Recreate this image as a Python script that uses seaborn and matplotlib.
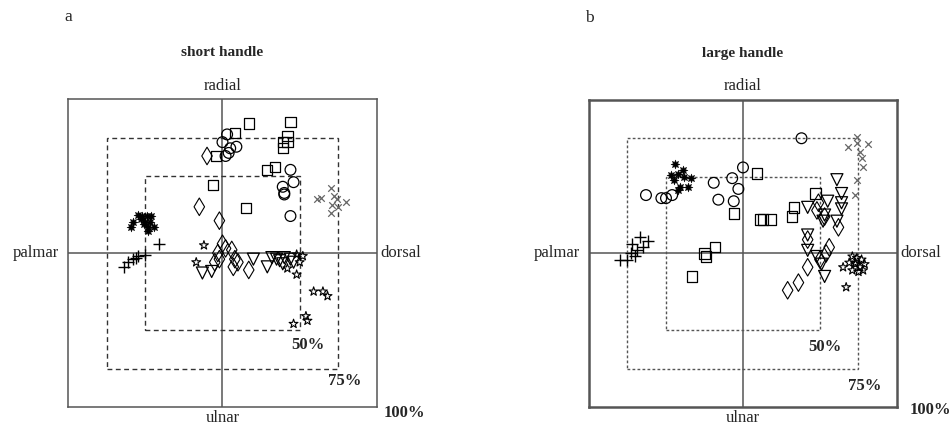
import matplotlib
matplotlib.use("Agg")
import matplotlib.pyplot as plt
from matplotlib.patches import Rectangle
import seaborn as sns
import pandas as pd

sns.set_theme(style="white")
plt.rcParams["font.family"] = ["Liberation Serif", "DejaVu Serif"]

# ---- short handle: wrist positions (fraction of range of motion) ----
a_square_x = [0.17, 0.08, -0.04, 0.44, 0.42, 0.39, 0.42, 0.39, 0.34, 0.29, -0.06, 0.15]
a_square_y = [0.84, 0.78, 0.63, 0.85, 0.76, 0.72, 0.72, 0.68, 0.56, 0.54, 0.44, 0.29]
a_circle_x = [0.03, 0.00, 0.09, 0.05, 0.04, 0.02, 0.44, 0.46, 0.39, 0.40, 0.40, 0.44]
a_circle_y = [0.77, 0.72, 0.69, 0.68, 0.65, 0.63, 0.54, 0.46, 0.43, 0.39, 0.38, 0.24]
a_diamond_x = [-0.10, -0.15, -0.02, 0.00, 0.06, -0.03, -0.02, 0.08, 0.10, 0.07, 0.17, -0.05, 0.02]
a_diamond_y = [0.63, 0.30, 0.21, 0.06, 0.02, 0.00, -0.04, -0.04, -0.06, -0.09, -0.11, -0.06, 0.03]
a_tri_x = [-0.13, -0.07, 0.20, 0.29, 0.32, 0.35, 0.39, 0.44, 0.46, 0.40, 0.37]
a_tri_y = [-0.13, -0.12, -0.04, -0.09, -0.03, -0.04, -0.07, -0.04, -0.06, -0.03, -0.05]
a_star_x = [-0.12, -0.17, 0.48, 0.52, 0.42, 0.48, 0.59, 0.65, 0.68, 0.54, 0.55, 0.46, 0.50]
a_star_y = [0.05, -0.06, -0.01, -0.02, -0.10, -0.14, -0.25, -0.25, -0.28, -0.41, -0.44, -0.46, -0.06]
a_cross_x = [0.70, 0.61, 0.64, 0.72, 0.74, 0.80, 0.75, 0.71, 0.70]
a_cross_y = [0.42, 0.35, 0.36, 0.37, 0.35, 0.33, 0.30, 0.31, 0.26]
a_plus_x = [-0.41, -0.50, -0.56, -0.58, -0.61, -0.64, -0.55]
a_plus_y = [0.06, -0.01, -0.03, -0.04, -0.06, -0.09, -0.02]
a_ast_x = [-0.55, -0.52, -0.49, -0.46, -0.58, -0.53, -0.50, -0.47, -0.59, -0.51, -0.48, -0.44, -0.48]
a_ast_y = [0.25, 0.24, 0.24, 0.24, 0.20, 0.22, 0.20, 0.20, 0.17, 0.19, 0.17, 0.17, 0.14]

# ---- large handle ----
b_square_x = [0.09, 0.11, 0.13, 0.18, 0.47, 0.33, 0.32, -0.06, -0.18, -0.25, -0.24, -0.33]
b_square_y = [0.52, 0.22, 0.22, 0.22, 0.39, 0.30, 0.24, 0.26, 0.04, 0.00, -0.02, -0.15]
b_circle_x = [-0.63, -0.53, -0.50, -0.46, -0.19, -0.16, -0.07, -0.03, -0.06, 0.00, 0.38]
b_circle_y = [0.38, 0.36, 0.36, 0.38, 0.46, 0.35, 0.49, 0.42, 0.34, 0.56, 0.75]
b_diamond_x = [0.49, 0.48, 0.53, 0.62, 0.42, 0.56, 0.54, 0.50, 0.42, 0.36, 0.29]
b_diamond_y = [0.33, 0.28, 0.24, 0.17, 0.09, 0.04, 0.00, -0.04, -0.09, -0.19, -0.24]
b_tri_x = [0.61, 0.64, 0.55, 0.42, 0.64, 0.64, 0.53, 0.52, 0.61, 0.42, 0.42, 0.48, 0.51, 0.53]
b_tri_y = [0.48, 0.39, 0.34, 0.30, 0.33, 0.29, 0.25, 0.21, 0.21, 0.12, 0.02, -0.02, -0.07, -0.15]
b_star_x = [0.71, 0.74, 0.77, 0.69, 0.73, 0.76, 0.79, 0.71, 0.75, 0.78, 0.65, 0.67, 0.73]
b_star_y = [-0.02, -0.03, -0.04, -0.06, -0.07, -0.09, -0.07, -0.11, -0.12, -0.11, -0.09, -0.22, -0.06]
b_cross_x = [0.74, 0.68, 0.81, 0.76, 0.77, 0.78, 0.74, 0.73, 0.74]
b_cross_y = [0.76, 0.69, 0.71, 0.66, 0.62, 0.56, 0.48, 0.38, 0.72]
b_plus_x = [-0.80, -0.75, -0.73, -0.70, -0.67, -0.65, -0.62, -0.72, -0.69]
b_plus_y = [-0.04, -0.04, 0.00, -0.02, 0.11, 0.04, 0.08, 0.06, 0.02]
b_ast_x = [-0.44, -0.47, -0.42, -0.39, -0.38, -0.41, -0.36, -0.42, -0.45, -0.34]
b_ast_y = [0.58, 0.51, 0.52, 0.54, 0.50, 0.43, 0.43, 0.41, 0.48, 0.49]

zone_levels = [0.75, 0.50]
zone_labels = ["75%", "50%"]
outer_label = "100%"
panel_letters = ["a", "b"]
panel_titles = ["short handle", "large handle"]
axis_names = {"top": "radial", "bottom": "ulnar", "left": "palmar", "right": "dorsal"}

panels = [
    {"square": (a_square_x, a_square_y), "circle": (a_circle_x, a_circle_y),
     "diamond": (a_diamond_x, a_diamond_y), "tri": (a_tri_x, a_tri_y),
     "star": (a_star_x, a_star_y), "cross": (a_cross_x, a_cross_y),
     "plus": (a_plus_x, a_plus_y), "ast": (a_ast_x, a_ast_y)},
    {"square": (b_square_x, b_square_y), "circle": (b_circle_x, b_circle_y),
     "diamond": (b_diamond_x, b_diamond_y), "tri": (b_tri_x, b_tri_y),
     "star": (b_star_x, b_star_y), "cross": (b_cross_x, b_cross_y),
     "plus": (b_plus_x, b_plus_y), "ast": (b_ast_x, b_ast_y)},
]

# marker styling per series
styles = {
    "square": dict(marker="s", s=55, fc="none", ec="black", linewidths=0.9),
    "circle": dict(marker="o", s=60, fc="none", ec="black", linewidths=0.9),
    "diamond": dict(marker="d", s=80, fc="none", ec="black", linewidths=0.8),
    "tri": dict(marker="v", s=75, fc="none", ec="black", linewidths=0.9),
    "star": dict(marker="*", s=45, fc="none", ec="black", linewidths=0.8),
    "cross": dict(marker="x", s=22, color="#666666", linewidths=0.9),
    "plus": dict(marker="+", s=80, color="black", linewidths=1.0),
    "ast": dict(marker=(8, 1, 0), s=42, fc="black", ec="black", linewidths=0.3),
}

fig = plt.figure(figsize=(9.52, 4.26), dpi=100)
axes_pos = [[0.0714, 0.0446, 0.3246, 0.723], [0.6187, 0.0446, 0.3235, 0.721]]
label_pos = [
    {"75%": (0.79, -0.83), "50%": (0.55, -0.60), "100%": (1.18, -1.04)},
    {"75%": (0.79, -0.86), "50%": (0.53, -0.61), "100%": (1.22, -1.02)},
]
box_lw = [1.1, 1.8]
zone_ls = [(0, (3.5, 2.5)), (0, (2.0, 1.6))]
zone_color = ["#333333", "#555555"]

for i, pos in enumerate(axes_pos):
    ax = fig.add_axes(pos)
    ax.set_xlim(-1, 1)
    ax.set_ylim(-1, 1)
    ax.set_xticks([])
    ax.set_yticks([])
    for sp in ax.spines.values():
        sp.set_color("#555555")
        sp.set_linewidth(box_lw[i])
    ax.axhline(0, color="#555555", lw=1.1, zorder=1)
    ax.axvline(0, color="#555555", lw=1.1, zorder=1)
    for lvl in zone_levels:
        ax.add_patch(Rectangle((-lvl, -lvl), 2 * lvl, 2 * lvl, fill=False,
                               ec=zone_color[i], lw=1.0, ls=zone_ls[i], zorder=1))

    for key, (xs, ys) in panels[i].items():
        df = pd.DataFrame({"x": xs, "y": ys})
        sns.scatterplot(data=df, x="x", y="y", ax=ax, legend=False, zorder=3,
                        **styles[key])
    ax.set_xlabel("")
    ax.set_ylabel("")

    ax.text(0, 1.035, axis_names["top"], ha="center", va="bottom", fontsize=12)
    ax.text(0, -1.095, axis_names["bottom"], ha="center", va="baseline", fontsize=12)
    ax.text(-1.06, 0, axis_names["left"], ha="right", va="center", fontsize=12)
    ax.text(1.02, 0, axis_names["right"], ha="left", va="center", fontsize=12)
    for lab in zone_labels + [outer_label]:
        px, py = label_pos[i][lab]
        ax.text(px, py, lab, ha="center", va="center", fontsize=12,
                fontweight="bold", clip_on=False)
    ax.text(0, 1.30, panel_titles[i], ha="center", va="center", fontsize=11,
            fontweight="bold")
    ax.text(-1.0, 1.53, panel_letters[i], ha="center", va="center", fontsize=12.5)

fig.savefig("out.png", dpi=100, facecolor="white")
